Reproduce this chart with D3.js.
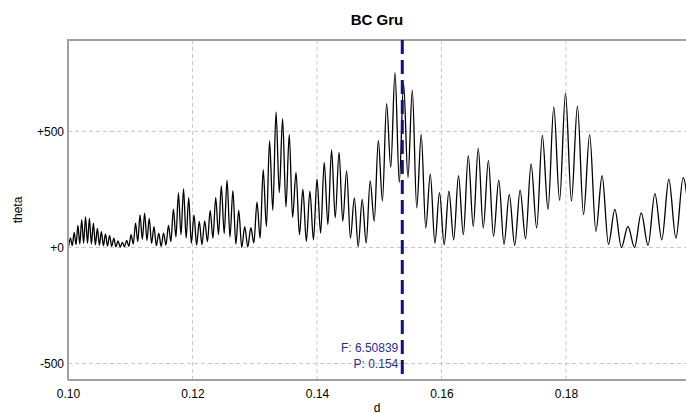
<!DOCTYPE html>
<html>
<head>
<meta charset="utf-8">
<script src="https://cdn.jsdelivr.net/npm/d3@7"></script>
<style>
  body { margin: 0; background: #fff; }
  svg { display: block; font-family: "Liberation Sans", Arial, sans-serif; }
</style>
</head>
<body>
<svg width="686" height="414"></svg>
<script>
// peaks of the theta curve (d, theta)
const peakD = [
  0.10040, 0.10099, 0.10159, 0.10220, 0.10282, 0.10344, 0.10408, 0.10472, 0.10536, 0.10602,
  0.10668, 0.10736, 0.10804, 0.10873, 0.10942, 0.11013, 0.11085, 0.11157, 0.11231, 0.11305,
  0.11381, 0.11458, 0.11535, 0.11614, 0.11693, 0.11774, 0.11856, 0.11939, 0.12024, 0.12109,
  0.12196, 0.12284, 0.12373, 0.12463, 0.12555, 0.12649, 0.12743, 0.12839, 0.12937, 0.13036,
  0.13136, 0.13238, 0.13342, 0.13447, 0.13554, 0.13663, 0.13773, 0.13886, 0.14000, 0.14116,
  0.14234, 0.14354, 0.14476, 0.14600, 0.14726, 0.14854, 0.14985, 0.15118, 0.15253, 0.15391,
  0.15531, 0.15674, 0.15820, 0.15968, 0.16119, 0.16273, 0.16430, 0.16590, 0.16753, 0.16920,
  0.17089, 0.17263, 0.17439, 0.17620, 0.17804, 0.17992, 0.18184, 0.18380, 0.18580, 0.18785,
  0.18995, 0.19209, 0.19428, 0.19652, 0.19882
];
const peakTheta = [
  40, 65, 95, 120, 132, 125, 105, 82, 68, 58,
  52, 40, 28, 22, 30, 55, 105, 140, 148, 125,
  90, 62, 62, 95, 165, 235, 252, 215, 140, 112,
  115, 160, 215, 265, 290, 245, 160, 90, 85, 195,
  335, 460, 584, 555, 487, 323, 251, 243, 294, 367,
  420, 410, 330, 214, 207, 287, 461, 620, 753, 707,
  678, 487, 316, 236, 243, 309, 396, 427, 374, 290,
  229, 247, 360, 483, 606, 664, 609, 486, 309, 164,
  91, 149, 232, 294, 301
];
// troughs between the peaks
const troughD = [
  0.10010, 0.10069, 0.10129, 0.10190, 0.10251, 0.10313, 0.10376, 0.10440, 0.10504, 0.10569,
  0.10635, 0.10702, 0.10769, 0.10838, 0.10907, 0.10978, 0.11049, 0.11121, 0.11194, 0.11268,
  0.11343, 0.11419, 0.11496, 0.11574, 0.11653, 0.11734, 0.11815, 0.11898, 0.11981, 0.12066,
  0.12152, 0.12240, 0.12328, 0.12418, 0.12509, 0.12602, 0.12696, 0.12791, 0.12888, 0.12986,
  0.13086, 0.13187, 0.13290, 0.13394, 0.13501, 0.13608, 0.13718, 0.13829, 0.13943, 0.14058,
  0.14175, 0.14293, 0.14414, 0.14537, 0.14662, 0.14790, 0.14919, 0.15051, 0.15185, 0.15322,
  0.15461, 0.15602, 0.15747, 0.15894, 0.16043, 0.16196, 0.16351, 0.16510, 0.16671, 0.16836,
  0.17004, 0.17176, 0.17350, 0.17529, 0.17711, 0.17897, 0.18087, 0.18281, 0.18480, 0.18682,
  0.18890, 0.19101, 0.19318, 0.19539, 0.19766, 0.19998
];
const troughTheta = [
  5, 8, 12, 15, 18, 18, 15, 12, 10, 8,
  6, 5, 3, 2, 3, 5, 15, 25, 35, 30,
  18, 8, 5, 10, 25, 45, 55, 40, 18, 10,
  12, 25, 40, 55, 60, 45, 15, 0, 2, 20,
  40, 90, 160, 236, 175, 130, 55, 26, 33, 62,
  99, 128, 113, 40, 4, 19, 113, 200, 345, 280,
  301, 171, 84, 19, 12, 33, 55, 91, 84, 48,
  14, 9, 38, 84, 164, 203, 200, 142, 70, 14,
  0, 0, 9, 33, 40, 60
];

const xTicks = [0.10, 0.12, 0.14, 0.16, 0.18];
const yTicks = [500, 0, -500];
const yTickLabels = ["+500", "+0", "-500"];

const markD = 0.1537;
const markLabels = ["F: 6.50839", "P: 0.154"];

const title = "BC Gru";
const xTitle = "d";
const yTitle = "theta";

// 그리기
const svg = d3.select("svg");
const plotL = 68, plotR = 686, plotT = 40, plotB = 380;

const x = d3.scaleLinear().domain([0.10, 0.20]).range([plotL, 690.5]);
const y = d3.scaleLinear().domain([-571, 894]).range([plotB, plotT]);

// peaks and troughs merged into one curve
const pts = peakD.map((d, i) => [d, peakTheta[i]])
  .concat(troughD.map((d, i) => [d, troughTheta[i]]))
  .sort((a, b) => a[0] - b[0]);

svg.append("defs").append("clipPath").attr("id", "plot")
  .append("rect").attr("x", plotL).attr("y", plotT)
  .attr("width", plotR - plotL).attr("height", plotB - plotT);

// grid
svg.append("g")
  .selectAll("line")
  .data(xTicks.slice(1))
  .join("line")
  .attr("x1", (d) => x(d)).attr("x2", (d) => x(d))
  .attr("y1", plotT).attr("y2", plotB)
  .attr("stroke", "#c8c8c8")
  .attr("stroke-dasharray", "4,3");

svg.append("g")
  .selectAll("line")
  .data(yTicks)
  .join("line")
  .attr("x1", plotL).attr("x2", plotR)
  .attr("y1", (d) => y(d)).attr("y2", (d) => y(d))
  .attr("stroke", "#c8c8c8")
  .attr("stroke-dasharray", "4,3");

// axes, labels only
const xAxis = d3.axisBottom(x).tickValues(xTicks).tickFormat(d3.format(".2f")).tickSize(0).tickPadding(9);
const gx = svg.append("g").attr("transform", `translate(0,${plotB})`).call(xAxis);
gx.select(".domain").remove();
gx.selectAll("text").attr("font-size", 12).attr("fill", "#000").attr("font-family", null);

const yAxis = d3.axisLeft(y).tickValues(yTicks).tickFormat((d, i) => yTickLabels[i]).tickSize(0).tickPadding(4);
const gy = svg.append("g").attr("transform", `translate(${plotL},0)`).call(yAxis);
gy.select(".domain").remove();
gy.selectAll("text").attr("font-size", 12).attr("fill", "#000").attr("font-family", null);

// curve
const line = d3.line()
  .x((d) => x(d[0]))
  .y((d) => y(d[1]))
  .curve(d3.curveMonotoneX);

svg.append("path")
  .datum(pts)
  .attr("clip-path", "url(#plot)")
  .attr("d", line)
  .attr("fill", "none")
  .attr("stroke", "#000")
  .attr("stroke-width", 1.3);

// frame
svg.append("path")
  .attr("d", `M${plotL},${plotB}H${plotR}M${plotL},${plotB}V${plotT}H${plotR}`)
  .attr("fill", "none")
  .attr("stroke", "#a0a0a0")
  .attr("stroke-width", 2);

// marker line
svg.append("line")
  .attr("x1", x(markD)).attr("x2", x(markD))
  .attr("y1", plotT).attr("y2", plotB)
  .attr("stroke", "#101088")
  .attr("stroke-width", 3)
  .attr("stroke-dasharray", "14,6");

svg.append("g")
  .selectAll("text")
  .data(markLabels)
  .join("text")
  .attr("x", x(markD) - 4)
  .attr("y", (d, i) => 352 + i * 16)
  .attr("text-anchor", "end")
  .attr("font-size", 12)
  .attr("fill", "#2b2ba0")
  .text((d) => d);

// titles
svg.append("text")
  .attr("x", (plotL + plotR) / 2).attr("y", 25)
  .attr("text-anchor", "middle")
  .attr("font-size", 15).attr("font-weight", "bold")
  .text(title);

svg.append("text")
  .attr("x", (plotL + plotR) / 2).attr("y", 412)
  .attr("text-anchor", "middle")
  .attr("font-size", 12)
  .text(xTitle);

svg.append("text")
  .attr("transform", `translate(22,${(plotT + plotB) / 2}) rotate(-90)`)
  .attr("text-anchor", "middle")
  .attr("font-size", 12)
  .text(yTitle);
</script>
</body>
</html>
